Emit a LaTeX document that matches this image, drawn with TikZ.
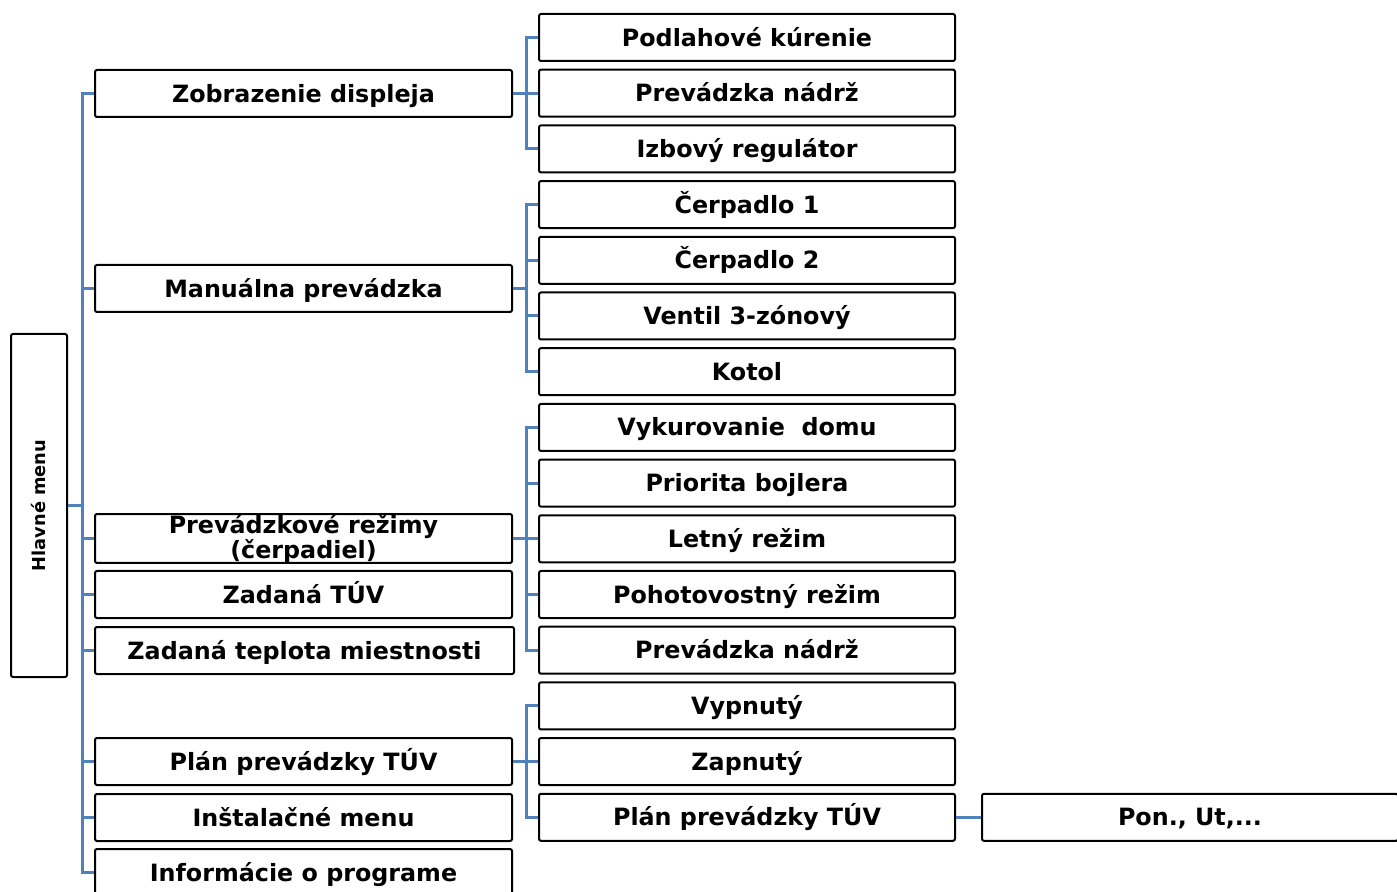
\documentclass[tikz,border=0pt]{standalone}
\usepackage{fontspec}
\setmainfont{DejaVu Sans}
\usetikzlibrary{positioning}
\definecolor{linkblue}{RGB}{79,129,189}
\tikzstyle{block} = [rectangle, draw, line width=1pt, rounded corners=1pt,
    minimum width=208.5pt, minimum height=23.5pt, inner sep=0pt,
    text height=9pt, text depth=0.4pt,
    align=center, font=\fontsize{11.9}{12.5}\selectfont\bfseries]
\tikzstyle{root} = [block, minimum width=28pt, minimum height=171.5pt,
    text height={}, text depth={},
    font=\fontsize{8.9}{10}\selectfont\bfseries]
\tikzstyle{line} = [draw, linkblue, line width=1.5pt]

\begin{document}
\begin{tikzpicture}[x=0.5pt, y=-0.5pt, node distance=27.85pt]
    \useasboundingbox (0,0) rectangle (1397,892);
    % Place nodes
    \node [root] (main) at (39,505.5) {\rotatebox{90}{Hlavné menu}};
    \node [block] (display) at (303.5,93.5) {Zobrazenie displeja};
    \node [block] (manual) at (303.5,288.5) {Manuálna prevádzka};
    \node [block, text height={}, text depth={}] (modes) at (303.5,538.5) {Prevádzkové režimy\\(čerpadiel)};
    \node [block] (dhw) at (303.5,594.5) {Zadaná TÚV};
    \node [block, minimum width=209.5pt] (room) at (304.5,650.5) {Zadaná teplota miestnosti};
    \node [block] (plan) at (303.5,761.5) {Plán prevádzky TÚV};
    \node [block] (install) at (303.5,817.5) {Inštalačné menu};
    \node [block] (info) at (303.5,872.5) {Informácie o programe};

    \node [block, minimum width=208pt] (floor) at (747,37.5) {Podlahové kúrenie};
    \node [block, minimum width=208pt, below of=floor] (tank) {Prevádzka nádrž};
    \node [block, minimum width=208pt, below of=tank] (roomreg) {Izbový regulátor};
    \node [block, minimum width=208pt, below of=roomreg] (pump1) {Čerpadlo 1};
    \node [block, minimum width=208pt, below of=pump1] (pump2) {Čerpadlo 2};
    \node [block, minimum width=208pt, below of=pump2] (valve) {Ventil 3-zónový};
    \node [block, minimum width=208pt, below of=valve] (boiler) {Kotol};
    \node [block, minimum width=208pt, below of=boiler] (heat) {Vykurovanie~ domu};
    \node [block, minimum width=208pt, below of=heat] (prio) {Priorita bojlera};
    \node [block, minimum width=208pt, below of=prio] (summer) {Letný režim};
    \node [block, minimum width=208pt, below of=summer] (standby) {Pohotovostný režim};
    \node [block, minimum width=208pt, below of=standby] (tanktwo) {Prevádzka nádrž};
    \node [block, minimum width=208pt, below of=tanktwo] (off) {Vypnutý};
    \node [block, minimum width=208pt, below of=off] (on) {Zapnutý};
    \node [block, minimum width=208pt, below of=on] (plantwo) {Plán prevádzky TÚV};
    \node [block, minimum width=208pt, right=12.5pt of plantwo] (days) {Pon., Ut,...};

    % Draw edges
    \path [line] (main.east) -- ++(7pt,0) coordinate (trunk);
    \path [line] (trunk) |- (display.west);
    \path [line] (trunk) |- (manual.west);
    \path [line] (trunk) |- (modes.west);
    \path [line] (trunk) |- (dhw.west);
    \path [line] (trunk) |- (room.west);
    \path [line] (trunk) |- (plan.west);
    \path [line] (trunk) |- (install.west);
    \path [line] (trunk) |- (info.west);

    \path [line] (display.east) -- ++(6.5pt,0) coordinate (fork1);
    \path [line] (fork1) |- (floor.west);
    \path [line] (fork1) |- (tank.west);
    \path [line] (fork1) |- (roomreg.west);

    \path [line] (manual.east) -- ++(6.5pt,0) coordinate (fork2);
    \path [line] (fork2) |- (pump1.west);
    \path [line] (fork2) |- (pump2.west);
    \path [line] (fork2) |- (valve.west);
    \path [line] (fork2) |- (boiler.west);

    \path [line] (modes.east) -- ++(6.5pt,0) coordinate (fork3);
    \path [line] (fork3) |- (heat.west);
    \path [line] (fork3) |- (prio.west);
    \path [line] (fork3) |- (summer.west);
    \path [line] (fork3) |- (standby.west);
    \path [line] (fork3) |- (tanktwo.west);

    \path [line] (plan.east) -- ++(6.5pt,0) coordinate (fork4);
    \path [line] (fork4) |- (off.west);
    \path [line] (fork4) |- (on.west);
    \path [line] (fork4) |- (plantwo.west);

    \path [line] (plantwo) -- (days);
\end{tikzpicture}
\end{document}
